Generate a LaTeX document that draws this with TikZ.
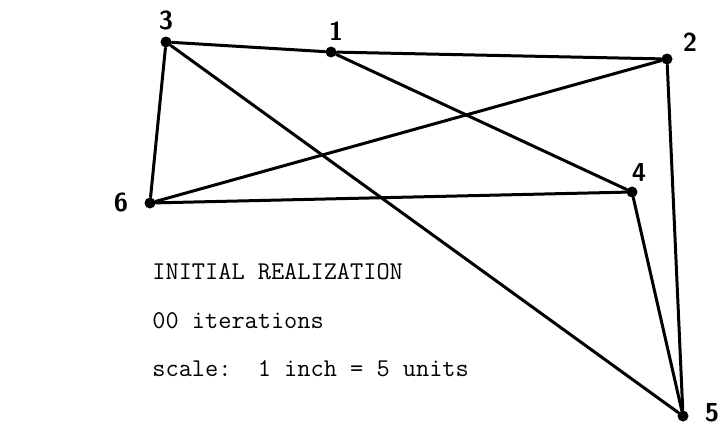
\documentclass[tikz,border=0pt]{standalone}
\usepackage{tikz}
\usetikzlibrary{positioning}

\begin{document}
\begin{tikzpicture}[
        x=0.5pt, y=-0.5pt,
        vertex/.style={
            circle,
            fill=black,
            inner sep=0pt,
            minimum size=5.5pt
        },
        tag/.style={
            font=\sffamily\bfseries\fontsize{13}{13}\selectfont,
            inner sep=0pt
        },
        caption/.style={
            font=\ttfamily\fontsize{12.8}{12.8}\selectfont,
            anchor=base west,
            inner sep=0pt
        },
        edge/.style={draw, line width=1.5pt, line cap=round}
    ]
    \useasboundingbox (0,0) rectangle (721,428);

    % Vertices
    \node[vertex] (v1) at (331, 52) {};
    \node[vertex] (v2) at (667, 59) {};
    \node[vertex] (v3) at (166, 42) {};
    \node[vertex] (v4) at (632, 192) {};
    \node[vertex] (v5) at (683, 416) {};
    \node[vertex] (v6) at (150, 203) {};

    % Labels
    \node[tag] (t1) at (336, 31) {1};
    \node[tag] (t2) at (690, 42) {2};
    \node[tag] (t3) at (166, 20) {3};
    \node[tag] (t4) at (639, 172) {4};
    \node[tag] (t5) at (712, 413) {5};
    \node[tag] (t6) at (121, 202) {6};

    % Edges
    \draw[edge] (v3) -- (v1) -- (v2);
    \draw[edge] (v3) -- (v6);
    \draw[edge] (v3) -- (v5);
    \draw[edge] (v1) -- (v4);
    \draw[edge] (v2) -- (v6);
    \draw[edge] (v6) -- (v4);
    \draw[edge] (v4) -- (v5);
    \draw[edge] (v2) -- (v5);

    % Caption
    \node[caption] (title) at (152, 279) {INITIAL REALIZATION};
    \node[caption] (iter) at (152, 328) {00 iterations};
    \node[caption] (scale) at (152, 376) {scale:\ \ 1 inch = 5 units};

\end{tikzpicture}
\end{document}
